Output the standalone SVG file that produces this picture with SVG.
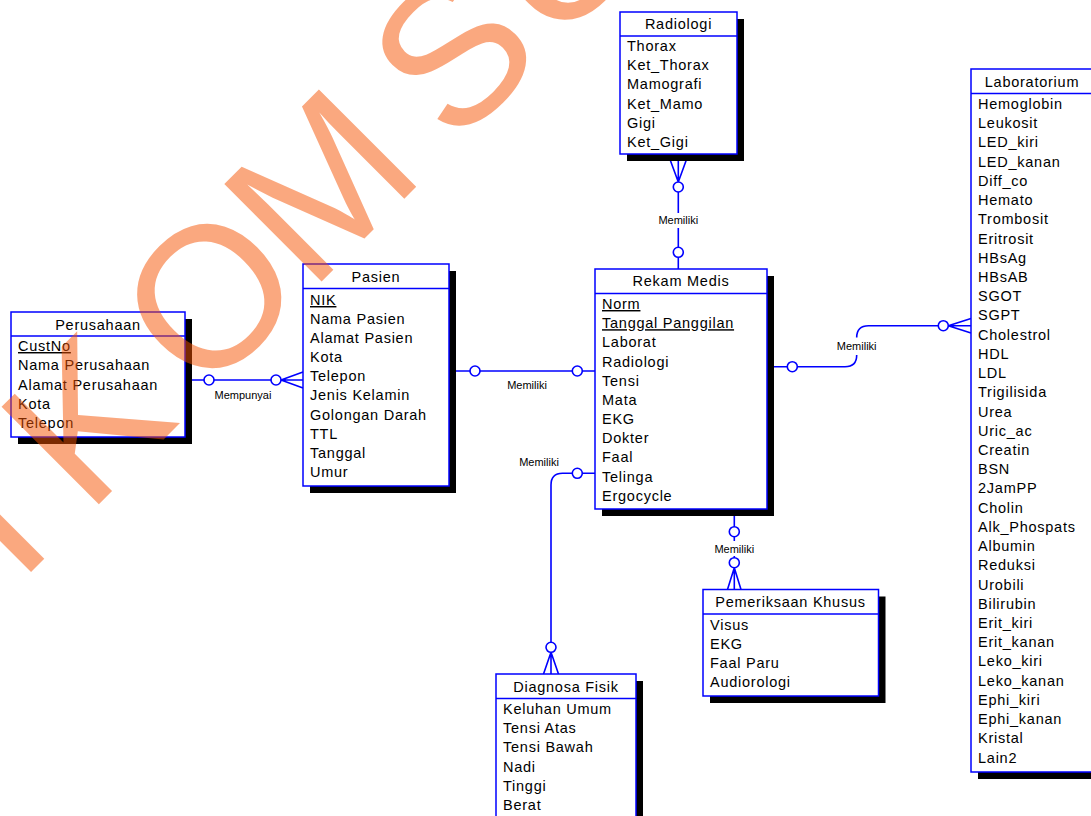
<svg xmlns="http://www.w3.org/2000/svg" width="1091" height="816" viewBox="0 0 1091 816">
<style>
.bg{fill:#fff}
.box{fill:#fff;stroke:#0000ff;stroke-width:1.5}
.sh{fill:#000}
.hd{stroke:#0000ff;stroke-width:1.5}
.t{font-family:"Liberation Sans",Arial,sans-serif;font-size:14.5px;fill:#000;letter-spacing:0.75px}
.ti{text-anchor:middle}
.k{text-decoration:underline}
.c{fill:none;stroke:#0000ff;stroke-width:1.6}
.o{fill:#fff;stroke:#0000ff;stroke-width:1.6}
.l{font-family:"Liberation Sans",Arial,sans-serif;font-size:11px;fill:#000;text-anchor:middle}
.wm{font-family:"Liberation Sans",Arial,sans-serif;font-size:200px;fill:#F55200;fill-opacity:0.5}
</style>
<rect class="bg" x="0" y="0" width="1091" height="816"/>

<g id="connectors">
  <!-- Perusahaan - Pasien -->
  <path class="c" d="M185 380 H303 M281 380 L303 372 M281 380 L303 388"/>
  <circle class="o" cx="209" cy="380" r="5"/>
  <circle class="o" cx="276" cy="380" r="5"/>
  <text class="l" x="243" y="399">Mempunyai</text>
  <!-- Pasien - Rekam Medis -->
  <path class="c" d="M449 371 H595"/>
  <circle class="o" cx="475" cy="371" r="5"/>
  <circle class="o" cx="577.3" cy="371" r="5"/>
  <text class="l" x="527" y="389">Memiliki</text>
  <!-- Radiologi - Rekam Medis -->
  <path class="c" d="M678.3 154 V213 M678.3 228 V269 M678.3 182 L668 154 M678.3 182 L688.5 154"/>
  <circle class="o" cx="678.3" cy="187" r="5"/>
  <circle class="o" cx="678.3" cy="252.3" r="5"/>
  <text class="l" x="678.3" y="224">Memiliki</text>
  <!-- Rekam Medis - Laboratorium -->
  <path class="c" d="M767 366.7 H845 Q856.7 366.7 856.7 355 M856.7 337.5 Q856.7 325.7 868.5 325.7 H971 M948.3 325.7 L971 318.5 M948.3 325.7 L971 333"/>
  <circle class="o" cx="792.3" cy="366.7" r="5"/>
  <circle class="o" cx="943.3" cy="325.7" r="5"/>
  <text class="l" x="856.7" y="350">Memiliki</text>
  <!-- Rekam Medis - Diagnosa Fisik -->
  <path class="c" d="M595 473.3 H562.5 Q551 473.3 551 485 V674 M551 652.3 L543.5 674 M551 652.3 L558.5 674"/>
  <circle class="o" cx="577.3" cy="473.3" r="5"/>
  <circle class="o" cx="551" cy="647.3" r="5"/>
  <text class="l" x="539" y="466">Memiliki</text>
  <!-- Rekam Medis - Pemeriksaan Khusus -->
  <path class="c" d="M734.3 509 V541 M734.3 556 V589.5 M734.3 567.7 L727.5 589.5 M734.3 567.7 L741 589.5"/>
  <circle class="o" cx="734.3" cy="531.7" r="5"/>
  <circle class="o" cx="734.3" cy="562.7" r="5"/>
  <text class="l" x="734.3" y="553">Memiliki</text>
</g>

<g id="perusahaan">
  <rect class="sh" x="18" y="319" width="174" height="125"/>
  <rect class="box" x="11" y="312" width="174" height="125"/>
  <line class="hd" x1="11" y1="336" x2="185" y2="336"/>
  <text class="t ti" x="98" y="329.5">Perusahaan</text>
  <text class="t k" x="18" y="351">CustNo</text>
  <text class="t" x="18" y="370.3">Nama Perusahaan</text>
  <text class="t" x="18" y="389.5">Alamat Perusahaan</text>
  <text class="t" x="18" y="408.8">Kota</text>
  <text class="t" x="18" y="428">Telepon</text>
</g>

<g id="pasien">
  <rect class="sh" x="310" y="271" width="146" height="222"/>
  <rect class="box" x="303" y="264" width="146" height="222"/>
  <line class="hd" x1="303" y1="288.5" x2="449" y2="288.5"/>
  <text class="t ti" x="376" y="282">Pasien</text>
  <text class="t k" x="310" y="305">NIK</text>
  <text class="t" x="310" y="324.1">Nama Pasien</text>
  <text class="t" x="310" y="343.2">Alamat Pasien</text>
  <text class="t" x="310" y="362.2">Kota</text>
  <text class="t" x="310" y="381.3">Telepon</text>
  <text class="t" x="310" y="400.4">Jenis Kelamin</text>
  <text class="t" x="310" y="419.5">Golongan Darah</text>
  <text class="t" x="310" y="438.6">TTL</text>
  <text class="t" x="310" y="457.6">Tanggal</text>
  <text class="t" x="310" y="476.7">Umur</text>
</g>

<g id="radiologi">
  <rect class="sh" x="627" y="19" width="117" height="142"/>
  <rect class="box" x="620" y="12" width="117" height="142"/>
  <line class="hd" x1="620" y1="36" x2="737" y2="36"/>
  <text class="t ti" x="678.5" y="29">Radiologi</text>
  <text class="t" x="627" y="51">Thorax</text>
  <text class="t" x="627" y="70.2">Ket_Thorax</text>
  <text class="t" x="627" y="89.4">Mamografi</text>
  <text class="t" x="627" y="108.6">Ket_Mamo</text>
  <text class="t" x="627" y="127.8">Gigi</text>
  <text class="t" x="627" y="147">Ket_Gigi</text>
</g>

<g id="rekam-medis">
  <rect class="sh" x="602" y="276" width="172" height="240"/>
  <rect class="box" x="595" y="269" width="172" height="240"/>
  <line class="hd" x1="595" y1="293.5" x2="767" y2="293.5"/>
  <text class="t ti" x="681" y="286">Rekam Medis</text>
  <text class="t k" x="602" y="309">Norm</text>
  <text class="t k" x="602" y="328.2">Tanggal Panggilan</text>
  <text class="t" x="602" y="347.3">Laborat</text>
  <text class="t" x="602" y="366.5">Radiologi</text>
  <text class="t" x="602" y="385.7">Tensi</text>
  <text class="t" x="602" y="404.9">Mata</text>
  <text class="t" x="602" y="424">EKG</text>
  <text class="t" x="602" y="443.2">Dokter</text>
  <text class="t" x="602" y="462.4">Faal</text>
  <text class="t" x="602" y="481.5">Telinga</text>
  <text class="t" x="602" y="500.7">Ergocycle</text>
</g>

<g id="laboratorium">
  <rect class="sh" x="978" y="76" width="122" height="703"/>
  <rect class="box" x="971" y="69" width="122" height="703"/>
  <line class="hd" x1="971" y1="93.5" x2="1093" y2="93.5"/>
  <text class="t ti" x="1032" y="87">Laboratorium</text>
  <text class="t" x="978" y="109">Hemoglobin</text>
  <text class="t" x="978" y="128.2">Leukosit</text>
  <text class="t" x="978" y="147.4">LED_kiri</text>
  <text class="t" x="978" y="166.7">LED_kanan</text>
  <text class="t" x="978" y="185.9">Diff_co</text>
  <text class="t" x="978" y="205.1">Hemato</text>
  <text class="t" x="978" y="224.3">Trombosit</text>
  <text class="t" x="978" y="243.5">Eritrosit</text>
  <text class="t" x="978" y="262.8">HBsAg</text>
  <text class="t" x="978" y="282">HBsAB</text>
  <text class="t" x="978" y="301.2">SGOT</text>
  <text class="t" x="978" y="320.4">SGPT</text>
  <text class="t" x="978" y="339.6">Cholestrol</text>
  <text class="t" x="978" y="358.9">HDL</text>
  <text class="t" x="978" y="378.1">LDL</text>
  <text class="t" x="978" y="397.3">Trigilisida</text>
  <text class="t" x="978" y="416.5">Urea</text>
  <text class="t" x="978" y="435.7">Uric_ac</text>
  <text class="t" x="978" y="455">Creatin</text>
  <text class="t" x="978" y="474.2">BSN</text>
  <text class="t" x="978" y="493.4">2JamPP</text>
  <text class="t" x="978" y="512.6">Cholin</text>
  <text class="t" x="978" y="531.8">Alk_Phospats</text>
  <text class="t" x="978" y="551.1">Albumin</text>
  <text class="t" x="978" y="570.3">Reduksi</text>
  <text class="t" x="978" y="589.5">Urobili</text>
  <text class="t" x="978" y="608.7">Bilirubin</text>
  <text class="t" x="978" y="627.9">Erit_kiri</text>
  <text class="t" x="978" y="647.2">Erit_kanan</text>
  <text class="t" x="978" y="666.4">Leko_kiri</text>
  <text class="t" x="978" y="685.6">Leko_kanan</text>
  <text class="t" x="978" y="704.8">Ephi_kiri</text>
  <text class="t" x="978" y="724">Ephi_kanan</text>
  <text class="t" x="978" y="743.3">Kristal</text>
  <text class="t" x="978" y="762.5">Lain2</text>
</g>

<g id="pemeriksaan-khusus">
  <rect class="sh" x="710" y="596.5" width="175.5" height="106.5"/>
  <rect class="box" x="703" y="589.5" width="175.5" height="106.5"/>
  <line class="hd" x1="703" y1="614" x2="878.5" y2="614"/>
  <text class="t ti" x="790.5" y="607">Pemeriksaan Khusus</text>
  <text class="t" x="710" y="630">Visus</text>
  <text class="t" x="710" y="649">EKG</text>
  <text class="t" x="710" y="668">Faal Paru</text>
  <text class="t" x="710" y="687">Audiorologi</text>
</g>

<g id="diagnosa-fisik">
  <rect class="sh" x="503" y="681" width="140" height="150"/>
  <rect class="box" x="496" y="674" width="140" height="150"/>
  <line class="hd" x1="496" y1="698.5" x2="636" y2="698.5"/>
  <text class="t ti" x="566" y="692">Diagnosa Fisik</text>
  <text class="t" x="503" y="714">Keluhan Umum</text>
  <text class="t" x="503" y="733.2">Tensi Atas</text>
  <text class="t" x="503" y="752.4">Tensi Bawah</text>
  <text class="t" x="503" y="771.6">Nadi</text>
  <text class="t" x="503" y="790.8">Tinggi</text>
  <text class="t" x="503" y="810">Berat</text>
</g>

<g id="watermark" transform="translate(301.5,301.5) rotate(-45)">
  <text class="wm" x="-681 -541 -401 -303 -139 12 164 216 356 506 650 783 916 1049 1182" y="0">STIKOM SURABAYA</text>
</g>
</svg>
